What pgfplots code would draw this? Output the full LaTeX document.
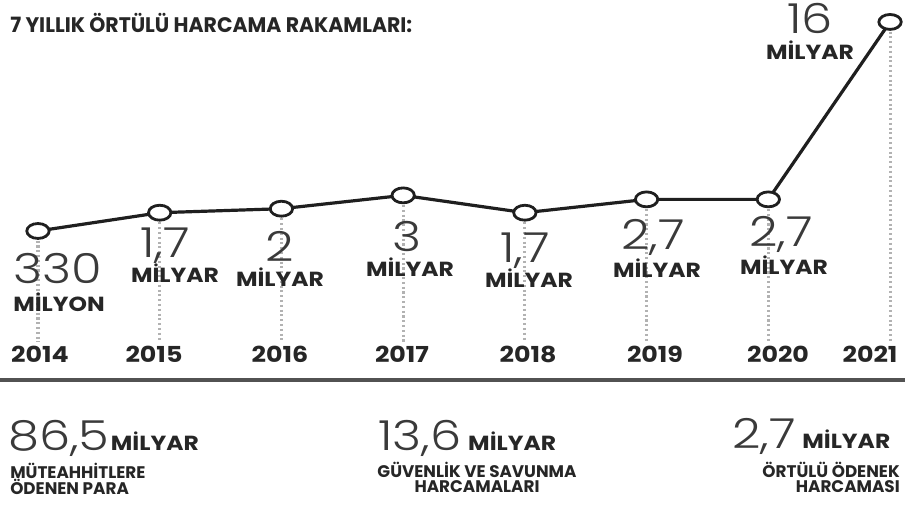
\documentclass[border=0pt]{standalone}
\usepackage{pgfplots}
\pgfplotsset{compat=1.18}
\usepackage{pgfplotstable}
\usepackage{fontspec}
\setmainfont{Poppins}
\newfontfamily\numfont{Poppins Light}[FakeStretch=1.2]
\newfontfamily\labfont{Poppins}[FakeStretch=1.15]
\newfontfamily\titfont{Poppins}[FakeStretch=0.97]
\definecolor{txt}{HTML}{262626}
\definecolor{numc}{HTML}{3A3A3A}
\pgfplotstableread{
year v
2014 0.33
2015 1.7
2016 2
2017 3
2018 1.7
2019 2.7
2020 2.7
2021 16
}\data
\newcommand\lab{\labfont\bfseries\fontsize{15.3}{18}\selectfont}
\newcommand\yr{\labfont\bfseries\fontsize{16.5}{19}\selectfont}
\newcommand\num{\numfont\fontsize{31}{36}\selectfont}
\newcommand\sub{\bfseries\fontsize{12.6}{14}\selectfont}
\begin{document}
\begin{tikzpicture}
\useasboundingbox (0,0) rectangle (678.75pt,382.5pt);
\begin{axis}[scale only axis, width=678.75pt, height=382.5pt,
  xmin=2013.688, xmax=2021.123, ymin=-20.585, ymax=17.646,
  hide axis, clip=false, at={(0,0)}, anchor=south west]
\addplot[draw=none, mark=none, forget plot,
  error bars/.cd, y dir=minus, y explicit, error mark=none,
  error bar style={line width=2.3pt, color=black!30, dash pattern=on 1.6pt off 2pt}]
  table[x=year, y=v, y error expr=\thisrow{v}+8] {\data};
\addplot[line width=2.4pt, color=black!88, mark=*, mark size=5.6pt,
  mark options={fill=white, line width=2.1pt, xscale=1.5}]
  table[x=year, y=v] {\data};
\end{axis}
\begin{scope}[shift={(0,382.5pt)}, x=0.75pt, y=-0.75pt]
\draw[line width=2.4pt, black!68] (0,380) -- (905,380);
\node[anchor=base west, inner sep=0, text=txt] at (10,33) {\titfont\bfseries\fontsize{15.8}{17}\selectfont 7 YILLIK ÖRTÜLÜ HARCAMA RAKAMLARI:};
% years
\foreach \xx/\yy in {40/2014,154/2015,280/2016,402/2017,528/2018,655/2019,778/2020,870/2021}
  \node[anchor=base, inner sep=0, text=txt] at (\xx,363) {\yr \yy};
% value labels
\node[anchor=base west, inner sep=0, text=numc] at (13,284) {\num 330};
\node[anchor=base west, inner sep=0, text=txt] at (13,312) {\lab MİLYON};
\node[anchor=base, inner sep=0, text=numc] at (165,258) {\num 1,7};
\node[anchor=base, inner sep=0, text=txt] at (175,283) {\lab MİLYAR};
\node[anchor=base, inner sep=0, text=numc] at (280,262) {\num 2};
\node[anchor=base, inner sep=0, text=txt] at (280,287) {\lab MİLYAR};
\node[anchor=base, inner sep=0, text=numc] at (407,252) {\num 3};
\node[anchor=base, inner sep=0, text=txt] at (410,277) {\lab MİLYAR};
\node[anchor=base, inner sep=0, text=numc] at (525,263) {\num 1,7};
\node[anchor=base, inner sep=0, text=txt] at (529,288) {\lab MİLYAR};
\node[anchor=base, inner sep=0, text=numc] at (653,250) {\num 2,7};
\node[anchor=base, inner sep=0, text=txt] at (657,278) {\lab MİLYAR};
\node[anchor=base, inner sep=0, text=numc] at (781,247) {\num 2,7};
\node[anchor=base, inner sep=0, text=txt] at (784,275) {\lab MİLYAR};
\node[anchor=base, inner sep=0, text=numc] at (810,34) {\num 16};
\node[anchor=base, inner sep=0, text=txt] at (810,60) {\lab MİLYAR};
% bottom summary
\node[anchor=base west, inner sep=0, text=numc] at (8,450) {\num 86,5\kern1pt{\lab\color{txt}MİLYAR}};
\node[anchor=base west, inner sep=0, text=txt] at (10,478) {\sub MÜTEAHHİTLERE};
\node[anchor=base west, inner sep=0, text=txt] at (10,494) {\sub ÖDENEN PARA};
\node[anchor=base west, inner sep=0, text=numc] at (378,450) {\num 13,6\kern5pt{\lab\color{txt}MİLYAR}};
\node[anchor=base, inner sep=0, text=txt] at (477,477) {\sub GÜVENLİK VE SAVUNMA};
\node[anchor=base, inner sep=0, text=txt] at (477,492) {\sub HARCAMALARI};
\node[anchor=base west, inner sep=0, text=numc] at (732,448) {\num 2,7\kern5pt{\lab\color{txt}MİLYAR}};
\node[anchor=base east, inner sep=0, text=txt] at (900,477) {\sub ÖRTÜLÜ ÖDENEK};
\node[anchor=base east, inner sep=0, text=txt] at (900,492) {\sub HARCAMASI};
\end{scope}
\end{tikzpicture}
\end{document}
